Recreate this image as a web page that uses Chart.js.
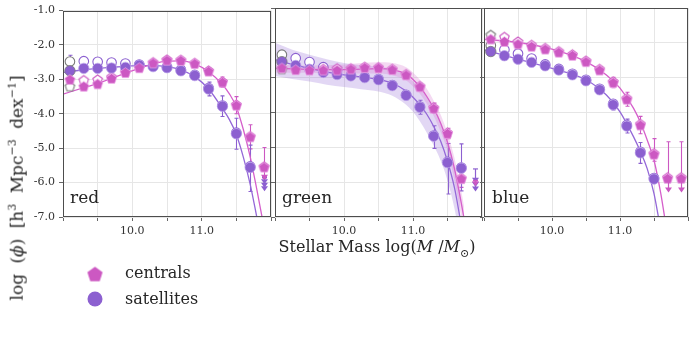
<!DOCTYPE html>
<html><head><meta charset="utf-8">
<script src="https://cdn.jsdelivr.net/npm/chart.js@4.4.0/dist/chart.umd.min.js"></script>
<style>
html,body{margin:0;padding:0;background:#fff;}
#wrap{position:relative;width:695px;height:343px;overflow:hidden;background:#fff;}
canvas{position:absolute;left:0;top:0;}
.lbl{position:absolute;font-family:"DejaVu Serif",serif;color:#262626;white-space:nowrap;line-height:1;}
</style></head><body>
<div id="wrap">
<canvas id="c1" width="695" height="343"></canvas>
<canvas id="c2" width="695" height="343"></canvas>
<canvas id="c3" width="695" height="343"></canvas>
<div class="lbl" style="left:70px;top:189px;font-size:17px">red</div>
<div class="lbl" style="left:282px;top:189px;font-size:17px">green</div>
<div class="lbl" style="left:492px;top:189px;font-size:17px">blue</div>
<div class="lbl" style="left:377px;top:249px;font-size:16px;transform:translate(-50%,-50%)">Stellar Mass log(<i>M</i> /<i>M</i><sub style="font-size:11px">⊙</sub>)</div>
<div class="lbl" style="left:16px;top:188px;font-size:17px;word-spacing:5px;transform:translate(-50%,-50%) rotate(-90deg)">log (<i>ϕ</i>) [h<sup style="font-size:11px">3</sup> Mpc<sup style="font-size:11px">−3</sup> dex<sup style="font-size:11px">−1</sup>]</div>
<div class="lbl" style="left:125px;top:265px;font-size:16px">centrals</div>
<div class="lbl" style="left:125px;top:291px;font-size:16px">satellites</div>
</div>
<script>
// ---------------- data ----------------
const massBins = [9.1, 9.3, 9.5, 9.7, 9.9, 10.1, 10.3, 10.5, 10.7, 10.9, 11.1, 11.3, 11.5, 11.7, 11.9];
const xTickValues = [10, 11];
const xTickText = ['10.0', '11.0'];
const yTickValues = [-7, -6, -5, -4, -3, -2, -1];
const yTickText = ['-7.0', '-6.0', '-5.0', '-4.0', '-3.0', '-2.0', '-1.0'];
const panelNames = ['red', 'green', 'blue'];

// red panel
const redCenFilled = [-3.00, -3.20, -3.13, -2.97, -2.80, -2.66, -2.52, -2.44, -2.45, -2.54, -2.76, -3.08, -3.75, -4.67, -5.55];
const redCenOpen   = [-3.20, -3.02, -3.00, -2.93, -2.78, -2.64, -2.50, -2.42, -2.43, -2.52, -2.74, -3.06, -3.73, -4.65, -5.53];
const redCenErrHi  = [0.06, 0.05, 0.05, 0.04, 0.04, 0.04, 0.04, 0.04, 0.04, 0.05, 0.08, 0.15, 0.25, 0.35, 0.57];
const redCenErrLo  = [0.06, 0.05, 0.05, 0.04, 0.04, 0.04, 0.04, 0.04, 0.04, 0.05, 0.08, 0.15, 0.25, 0.35, 0.33];
const redSatFilled = [-2.75, -2.68, -2.68, -2.67, -2.65, -2.59, -2.63, -2.66, -2.75, -2.89, -3.28, -3.78, -4.58, -5.56, null];
const redSatOpen   = [-2.48, -2.47, -2.49, -2.51, -2.54, -2.57, -2.61, -2.64, -2.72, -2.87, -3.25, -3.76, -4.55, -5.53, null];
const redSatErrHi  = [0.45, 0.04, 0.04, 0.04, 0.04, 0.04, 0.04, 0.05, 0.07, 0.10, 0.20, 0.30, 0.45, 0.65, null];
const redSatErrLo  = [0.05, 0.04, 0.04, 0.04, 0.04, 0.04, 0.04, 0.05, 0.07, 0.10, 0.20, 0.30, 0.45, 0.70, null];
const redCenFitX = [9.0, 9.3, 9.5, 9.7, 9.9, 10.1, 10.3, 10.5, 10.7, 10.9, 11.1, 11.3, 11.4, 11.5, 11.6, 11.7, 11.8, 11.88];
const redCenFitY = [-3.43, -3.24, -3.12, -2.97, -2.82, -2.68, -2.55, -2.47, -2.46, -2.55, -2.78, -3.15, -3.42, -3.80, -4.45, -5.25, -6.25, -7.1];
const redSatFitX = [9.0, 9.3, 9.5, 9.7, 9.9, 10.1, 10.3, 10.5, 10.7, 10.9, 11.1, 11.3, 11.4, 11.5, 11.6, 11.7, 11.8];
const redSatFitY = [-2.80, -2.72, -2.68, -2.65, -2.62, -2.60, -2.60, -2.63, -2.72, -2.92, -3.28, -3.85, -4.17, -4.60, -5.25, -6.05, -7.05];
const redSatLimitX = [11.9];
const redSatLimitTop = [-5.85];
const redSatLimitTips = [[-6.05, -6.15, -6.25]];
const redCenLimitX = [11.9];
const redCenLimitTop = [-5.82];
const redCenLimitTips = [[-5.92]];

// green panel
const greenCenFilled = [-2.72, -2.77, -2.78, -2.78, -2.78, -2.75, -2.71, -2.72, -2.77, -2.92, -3.26, -3.88, -4.60, -5.90, null];
const greenCenOpen   = [-2.75, -2.76, -2.76, -2.75, -2.73, -2.73, -2.69, -2.70, -2.75, -2.90, -3.24, -3.86, -4.58, -5.88, null];
const greenCenErrHi  = [0.04, 0.04, 0.04, 0.04, 0.04, 0.04, 0.04, 0.04, 0.05, 0.06, 0.10, 0.15, 0.15, 0.30, null];
const greenCenErrLo  = [0.04, 0.04, 0.04, 0.04, 0.04, 0.04, 0.04, 0.04, 0.05, 0.06, 0.10, 0.15, 0.15, 0.25, null];
const greenSatFilled = [-2.54, -2.65, -2.76, -2.85, -2.91, -2.95, -3.00, -3.06, -3.23, -3.51, -3.85, -4.68, -5.44, -5.60, null];
const greenSatOpen   = [-2.34, -2.44, -2.55, -2.70, -2.79, -2.93, -2.98, -3.04, -3.21, -3.49, -3.83, -4.66, -5.42, -5.58, null];
const greenSatErrHi  = [0.04, 0.04, 0.04, 0.04, 0.04, 0.04, 0.04, 0.05, 0.07, 0.12, 0.20, 0.30, 0.55, 0.70, null];
const greenSatErrLo  = [0.04, 0.04, 0.04, 0.04, 0.04, 0.04, 0.04, 0.05, 0.07, 0.12, 0.20, 0.35, 0.90, 0.65, null];
const greenSatFitX = [9.0, 9.25, 9.5, 9.75, 10.0, 10.25, 10.5, 10.7, 10.9, 11.0, 11.1, 11.2, 11.3, 11.4, 11.5, 11.6, 11.68];
const greenSatFitY = [-2.48, -2.62, -2.73, -2.84, -2.92, -2.98, -3.05, -3.16, -3.38, -3.56, -3.78, -4.05, -4.40, -4.82, -5.40, -6.15, -7.00];
const greenSatBandHi = [-2.00, -2.20, -2.34, -2.47, -2.58, -2.64, -2.68, -2.76, -2.95, -3.10, -3.30, -3.55, -3.88, -4.30, -4.85, -5.60, -6.40];
const greenSatBandLo = [-2.95, -3.04, -3.11, -3.20, -3.27, -3.33, -3.40, -3.52, -3.78, -3.98, -4.25, -4.58, -4.95, -5.38, -5.95, -6.75, -7.60];
const greenCenFitX = [9.0, 9.5, 10.0, 10.5, 10.7, 10.9, 11.0, 11.1, 11.2, 11.3, 11.4, 11.5, 11.6, 11.7, 11.74];
const greenCenFitY = [-2.73, -2.76, -2.77, -2.74, -2.77, -2.90, -3.05, -3.26, -3.54, -3.88, -4.30, -4.85, -5.60, -6.60, -7.05];
const greenCenBandHi = [-2.62, -2.65, -2.62, -2.56, -2.58, -2.70, -2.85, -3.06, -3.32, -3.66, -4.06, -4.60, -5.30, -6.25, -6.70];
const greenCenBandLo = [-2.85, -2.86, -2.88, -2.88, -2.93, -3.08, -3.25, -3.46, -3.75, -4.10, -4.55, -5.10, -5.95, -7.00, -7.40];
const greenSatLimitX = [11.9];
const greenSatLimitTop = [-5.62];
const greenSatLimitTips = [[-6.02, -6.14, -6.27]];
const greenCenLimitX = [11.9];
const greenCenLimitTop = [-5.95];
const greenCenLimitTips = [[-6.12]];

// blue panel
const blueCenFilled = [-1.89, -1.96, -2.03, -2.10, -2.18, -2.27, -2.36, -2.54, -2.78, -3.14, -3.62, -4.36, -5.20, -5.89, -5.89];
const blueCenOpen   = [-1.77, -1.83, -1.96, -2.06, -2.15, -2.24, -2.33, -2.51, -2.75, -3.11, -3.59, -4.33, -5.17, -5.86, -5.86];
const blueCenErrHi  = [0.03, 0.03, 0.03, 0.03, 0.03, 0.03, 0.04, 0.05, 0.10, 0.15, 0.20, 0.25, 0.45, 1.05, 1.05];
const blueCenErrLo  = [0.03, 0.03, 0.03, 0.03, 0.03, 0.03, 0.04, 0.05, 0.10, 0.15, 0.20, 0.25, 0.20, 0.00, 0.00];
const blueSatFilled = [-2.25, -2.37, -2.47, -2.56, -2.66, -2.78, -2.92, -3.09, -3.35, -3.78, -4.39, -5.16, -5.91, null, null];
const blueSatOpen   = [-2.08, -2.20, -2.31, -2.45, -2.62, -2.75, -2.89, -3.06, -3.32, -3.75, -4.36, -5.13, -5.88, null, null];
const blueSatErrHi  = [0.03, 0.03, 0.03, 0.03, 0.03, 0.03, 0.04, 0.05, 0.08, 0.15, 0.20, 0.30, 0.10, null, null];
const blueSatErrLo  = [0.03, 0.03, 0.03, 0.03, 0.03, 0.03, 0.04, 0.05, 0.08, 0.15, 0.20, 0.30, 0.10, null, null];
const blueCenFitX = [9.0, 9.5, 10.0, 10.5, 10.8, 11.0, 11.2, 11.3, 11.4, 11.5, 11.6, 11.66];
const blueCenFitY = [-1.90, -1.99, -2.18, -2.54, -2.92, -3.30, -3.88, -4.28, -4.79, -5.37, -6.33, -7.05];
const blueSatFitX = [9.0, 9.5, 10.0, 10.5, 10.8, 11.0, 11.2, 11.3, 11.4, 11.5, 11.57];
const blueSatFitY = [-2.20, -2.47, -2.73, -3.06, -3.50, -3.98, -4.70, -5.12, -5.61, -6.33, -7.05];
const blueCenLimitX = [11.7, 11.9];
const blueCenLimitTop = [-5.89, -5.89];
const blueCenLimitTips = [[-6.30], [-6.30]];

// ---------------- styling ----------------
const MAG = '#cc58c2', PUR = '#8c60d0', GREY = '#7a7a7a';
const MAG_LINE = '#d55fcb', PUR_LINE = '#9468d8';
const FONT = '"DejaVu Serif", serif';
const panelLeft = [63, 275, 484], panelRight = [271, 482, 692];

function pentagon(r, fill, stroke, lw) {
  const s = Math.ceil(2 * r + lw + 3);
  const c = document.createElement('canvas');
  c.width = s; c.height = s;
  const g = c.getContext('2d');
  g.beginPath();
  for (let k = 0; k < 5; k++) {
    const a = -Math.PI / 2 + k * 2 * Math.PI / 5;
    const px = s / 2 + r * Math.cos(a), py = s / 2 + r * Math.sin(a) + r * 0.1;
    if (k) g.lineTo(px, py); else g.moveTo(px, py);
  }
  g.closePath();
  g.fillStyle = fill; g.fill();
  if (stroke) { g.strokeStyle = stroke; g.lineWidth = lw; g.stroke(); }
  return c;
}
const pentFilled = pentagon(5.4, MAG, 'rgba(240,170,235,0.9)', 0.8);
const pentOpen = pentagon(5.0, '#ffffff', MAG, 1.1);
const pentOpenGrey = pentagon(5.0, '#ffffff', GREY, 1.1);
const pentLegend = pentagon(8, MAG, null, 0);

function pts(xs, ys) { return xs.map((x, i) => ({ x: x, y: ys[i] })); }
function greyFirst(n, c) { return Array.from({ length: n }, (_, i) => i === 0 ? GREY : c); }

function markerSets(cenF, cenO, cenHi, cenLo, satF, satO, satHi, satLo) {
  const n = massBins.length;
  return [
    { data: pts(massBins, cenF), showLine: false, pointStyle: pentFilled, pointRadius: 6, order: 1,
      errHi: cenHi, errLo: cenLo, errColor: MAG },
    { data: pts(massBins, satF), showLine: false, pointStyle: 'circle', pointRadius: 5.2,
      pointBackgroundColor: PUR, pointBorderColor: greyFirst(n, 'rgba(190,165,235,0.9)'), pointBorderWidth: 0.8, order: 1,
      errHi: satHi, errLo: satLo, errColor: PUR },
    { data: pts(massBins, cenO), showLine: false, order: 2, pointRadius: 6,
      pointStyle: Array.from({ length: n }, (_, i) => i === 0 ? pentOpenGrey : pentOpen) },
    { data: pts(massBins, satO), showLine: false, pointStyle: 'circle', pointRadius: 4.8, order: 2,
      pointBackgroundColor: '#ffffff', pointBorderColor: greyFirst(n, PUR), pointBorderWidth: 1.1 }
  ];
}
function fitSet(xs, ys, color) {
  return { data: pts(xs, ys), showLine: true, borderColor: color, borderWidth: 1.3, pointRadius: 0,
    cubicInterpolationMode: 'monotone', fill: false, order: 3 };
}
function bandSets(xs, hi, lo, color) {
  return [
    { data: pts(xs, hi), showLine: true, borderWidth: 0, pointRadius: 0, cubicInterpolationMode: 'monotone',
      fill: '+1', backgroundColor: color, order: 4 },
    { data: pts(xs, lo), showLine: true, borderWidth: 0, pointRadius: 0, cubicInterpolationMode: 'monotone',
      fill: false, order: 4 }
  ];
}
function limitItems(xs, tops, tips, color) {
  return xs.map((x, i) => ({ x: x, top: tops[i], tips: tips[i], color: color }));
}

// ---------------- plugins ----------------
const errPlugin = {
  id: 'errbars',
  beforeDatasetsDraw(chart) {
    const g = chart.ctx, xs = chart.scales.x, ys = chart.scales.y, a = chart.chartArea;
    g.save();
    g.beginPath(); g.rect(a.left, a.top, a.right - a.left, a.bottom - a.top); g.clip();
    chart.data.datasets.forEach(ds => {
      if (!ds.errHi) return;
      g.strokeStyle = ds.errColor; g.lineWidth = 1.1;
      ds.data.forEach((p, i) => {
        if (p.y === null || ds.errHi[i] === null) return;
        const px = Math.round(xs.getPixelForValue(p.x)) + 0.5;
        const t = ys.getPixelForValue(p.y + ds.errHi[i]);
        const b = ys.getPixelForValue(p.y - ds.errLo[i]);
        g.beginPath();
        g.moveTo(px, t); g.lineTo(px, b);
        g.moveTo(px - 2, t); g.lineTo(px + 2, t);
        if (ds.errLo[i] > 0) { g.moveTo(px - 2, b); g.lineTo(px + 2, b); }
        g.stroke();
      });
    });
    g.restore();
  }
};
const limitPlugin = {
  id: 'limits',
  afterDatasetsDraw(chart, args, opts) {
    if (!opts.items) return;
    const g = chart.ctx, xs = chart.scales.x, ys = chart.scales.y;
    g.save();
    opts.items.forEach(it => {
      const px = Math.round(xs.getPixelForValue(it.x)) + 0.5;
      const t = ys.getPixelForValue(it.top);
      const last = ys.getPixelForValue(it.tips[it.tips.length - 1]);
      g.strokeStyle = it.color; g.fillStyle = it.color; g.lineWidth = 1.2;
      g.beginPath(); g.moveTo(px, t); g.lineTo(px, last - 2); g.stroke();
      g.beginPath(); g.moveTo(px - 2.5, t); g.lineTo(px + 2.5, t); g.stroke();
      it.tips.forEach(v => {
        const y = ys.getPixelForValue(v);
        g.beginPath(); g.moveTo(px - 3.5, y - 5); g.lineTo(px + 3.5, y - 5); g.lineTo(px, y); g.closePath(); g.fill();
      });
    });
    g.restore();
  }
};
const framePlugin = {
  id: 'frame',
  afterDraw(chart) {
    const a = chart.chartArea, g = chart.ctx;
    g.save(); g.strokeStyle = '#4d4d4d'; g.lineWidth = 1;
    g.strokeRect(Math.round(a.left) + 0.5, Math.round(a.top) + 0.5, Math.round(a.right - a.left) - 1, Math.round(a.bottom - a.top) - 1);
    g.restore();
  }
};
const legendPlugin = {
  id: 'legendMarks',
  afterDraw(chart, args, opts) {
    if (!opts.show) return;
    const g = chart.ctx;
    g.drawImage(pentLegend, 95 - pentLegend.width / 2, 274 - pentLegend.height / 2);
    g.beginPath(); g.arc(95, 299, 7.5, 0, Math.PI * 2); g.fillStyle = PUR; g.fill();
  }
};

function makePanel(id, idx, datasets, limits) {
  const first = idx === 0;
  const yw = first ? 63 : 4;
  return new Chart(document.getElementById(id), {
    type: 'line',
    data: { datasets: datasets },
    plugins: [errPlugin, limitPlugin, framePlugin, legendPlugin],
    options: {
      responsive: false, animation: false, devicePixelRatio: 1,
      layout: { padding: { left: panelLeft[idx] - yw, right: 695 - panelRight[idx], top: 8, bottom: 96 } },
      plugins: { legend: { display: false }, tooltip: { enabled: false },
        limits: { items: limits }, legendMarks: { show: first } },
      elements: { line: { tension: 0 } },
      scales: {
        x: {
          type: 'linear', min: 9, max: 12,
          ticks: { stepSize: 0.5, autoSkip: false, maxRotation: 0, padding: 4, color: '#333',
            font: { family: FONT, size: 11 },
            callback: v => { const i = xTickValues.indexOf(v); return i >= 0 ? xTickText[i] : ''; } },
          grid: { color: '#e6e6e6', tickColor: '#666', tickLength: 4 },
          border: { display: false },
          afterFit: s => { s.height = 30; }
        },
        y: {
          type: 'linear', min: -7, max: -1,
          ticks: { stepSize: 1, display: first, padding: 4, color: '#333',
            font: { family: FONT, size: 11 },
            callback: v => { const i = yTickValues.indexOf(v); return i >= 0 ? yTickText[i] : ''; } },
          grid: { color: '#e6e6e6', tickColor: '#666', tickLength: 4 },
          border: { display: false },
          afterFit: s => { s.width = yw; }
        }
      }
    }
  });
}

makePanel('c1', 0, [
  ...markerSets(redCenFilled, redCenOpen, redCenErrHi, redCenErrLo, redSatFilled, redSatOpen, redSatErrHi, redSatErrLo),
  fitSet(redCenFitX, redCenFitY, MAG_LINE),
  fitSet(redSatFitX, redSatFitY, PUR_LINE)
], [...limitItems(redSatLimitX, redSatLimitTop, redSatLimitTips, PUR), ...limitItems(redCenLimitX, redCenLimitTop, redCenLimitTips, MAG)]);

makePanel('c2', 1, [
  ...markerSets(greenCenFilled, greenCenOpen, greenCenErrHi, greenCenErrLo, greenSatFilled, greenSatOpen, greenSatErrHi, greenSatErrLo),
  fitSet(greenCenFitX, greenCenFitY, MAG_LINE),
  fitSet(greenSatFitX, greenSatFitY, PUR_LINE),
  ...bandSets(greenCenFitX, greenCenBandHi, greenCenBandLo, 'rgba(215,120,210,0.28)'),
  ...bandSets(greenSatFitX, greenSatBandHi, greenSatBandLo, 'rgba(150,110,215,0.28)')
], [...limitItems(greenSatLimitX, greenSatLimitTop, greenSatLimitTips, PUR), ...limitItems(greenCenLimitX, greenCenLimitTop, greenCenLimitTips, MAG)]);

makePanel('c3', 2, [
  ...markerSets(blueCenFilled, blueCenOpen, blueCenErrHi, blueCenErrLo, blueSatFilled, blueSatOpen, blueSatErrHi, blueSatErrLo),
  fitSet(blueCenFitX, blueCenFitY, MAG_LINE),
  fitSet(blueSatFitX, blueSatFitY, PUR_LINE)
], limitItems(blueCenLimitX, blueCenLimitTop, blueCenLimitTips, MAG));
</script>
</body></html>
